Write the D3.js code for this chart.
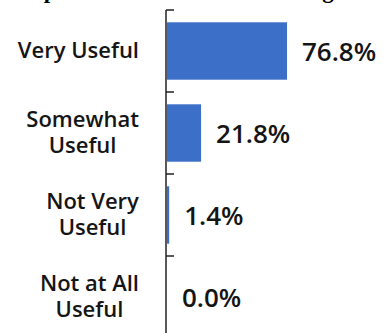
<!DOCTYPE html>
<html>
<head>
<meta charset="utf-8">
<script src="https://cdn.jsdelivr.net/npm/d3@7"></script>
<style>
html,body{margin:0;padding:0;background:#fff;overflow:hidden;}
svg{display:block;}
</style>
</head>
<body>
<svg id="chart" width="386" height="333"></svg>
<script>
const titleText = "Reported Usefulness of Training";
const categories = ["Very Useful", "Somewhat Useful", "Not Very Useful", "Not at All Useful"];
const categoryLines = [["Very Useful"], ["Somewhat", "Useful"], ["Not Very", "Useful"], ["Not at All", "Useful"]];
const values = [76.8, 21.8, 1.4, 0.0];
const valueLabels = ["76.8%", "21.8%", "1.4%", "0.0%"];

const svg = d3.select("#chart");
const W = 386, H = 333;
const axisX = 166;

const y = d3.scaleBand().domain(categories).range([10, 338]).paddingInner(0.3).paddingOuter(0.15);
const x = d3.scaleLinear().domain([0, 100]).range([axisX + 1, axisX + 1 + 156.25]);

// title, cut off at the top edge as in the reference (only descenders visible)
svg.append("text")
  .attr("x", 17).attr("y", -2)
  .attr("font-family", "Liberation Serif, Times New Roman, serif")
  .attr("font-weight", "bold")
  .attr("font-size", 23)
  .attr("fill", "#000")
  .text(titleText);

// bars
svg.selectAll("rect.bar").data(values).enter().append("rect")
  .attr("class", "bar")
  .attr("x", x(0))
  .attr("y", (d, i) => y(categories[i]))
  .attr("width", d => x(d) - x(0))
  .attr("height", y.bandwidth())
  .attr("fill", "#3c6fc7");

// axis line and ticks at band boundaries
const r0 = y.range()[0];
svg.append("line").attr("x1", axisX).attr("x2", axisX).attr("y1", r0).attr("y2", H)
  .attr("stroke", "#222").attr("stroke-width", 1.5);
const boundaries = d3.range(categories.length + 1).map(i => r0 + i * y.step());
svg.selectAll("line.tick").data(boundaries).enter().append("line")
  .attr("class", "tick")
  .attr("x1", axisX).attr("x2", axisX + 8)
  .attr("y1", d => d).attr("y2", d => d)
  .attr("stroke", "#222").attr("stroke-width", 1.5);

// category labels
const catFont = "Open Sans, Lato, sans-serif";
categoryLines.forEach((lines, i) => {
  const cy = y(categories[i]) + y.bandwidth() / 2;
  const lh = 26;
  const g = svg.append("text")
    .attr("font-family", catFont)
    .attr("font-size", 22)
    .attr("font-weight", 600)
    .attr("fill", "#151515")
    .attr("text-anchor", "middle");
  lines.forEach((ln, k) => {
    g.append("tspan")
      .attr("x", 0)
      .attr("y", cy - (lines.length - 1) * lh / 2 + k * lh + 7)
      .text(ln);
  });
  const bb = g.node().getBBox();
  g.attr("transform", `translate(${139 - bb.width / 2},0)`);
});

// value labels
svg.selectAll("text.val").data(values).enter().append("text")
  .attr("class", "val")
  .attr("x", d => x(d) + 15)
  .attr("y", (d, i) => y(categories[i]) + y.bandwidth() / 2 + 10)
  .attr("font-family", "Open Sans, Lato, sans-serif")
  .attr("font-size", 26)
  .attr("font-weight", 600)
  .attr("fill", "#151515")
  .text((d, i) => valueLabels[i]);
</script>
</body>
</html>
